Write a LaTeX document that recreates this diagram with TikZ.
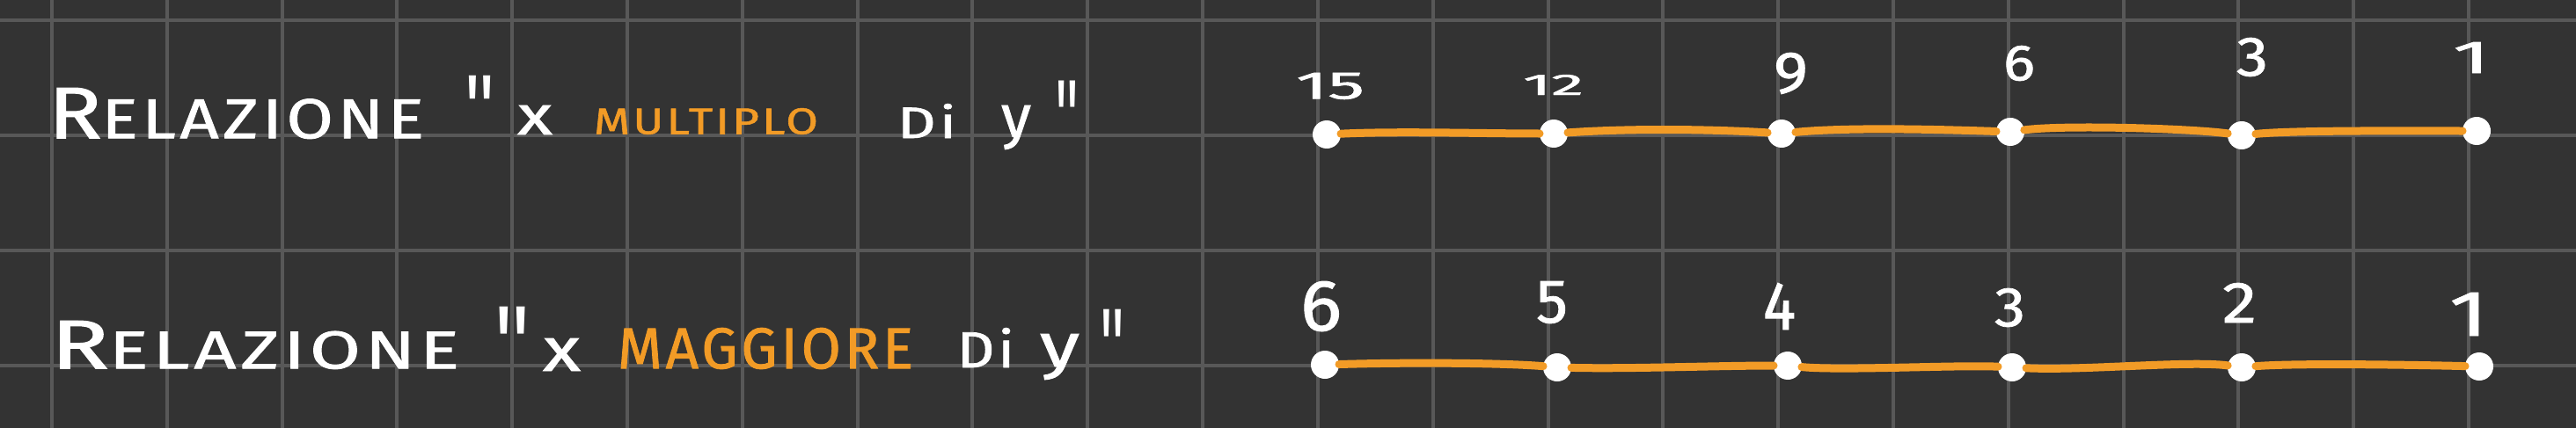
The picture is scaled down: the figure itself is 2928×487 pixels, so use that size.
\documentclass[tikz,border=0pt]{standalone}
\usepackage{fontspec}
\usepackage{graphicx}
\newfontfamily\handfont[LetterSpace=6,FakeBold=1.2]{Fira Sans}
\newfontfamily\numfont[FakeBold=1.2]{Fira Sans}
\newfontfamily\quotefont{Liberation Sans}
\definecolor{bgcol}{HTML}{333333}
\definecolor{gridcol}{HTML}{585858}
\definecolor{orangecol}{HTML}{F29B26}
\newcommand{\fitbox}[3]{\resizebox*{#1}{#2}{#3}}
\newcommand{\bigR}{{\fontsize{13}{13}\selectfont R}}
\newcommand{\qmark}{\raisebox{-0.47em}[0.245em][0pt]{"}}
\begin{document}
\begin{tikzpicture}[x=1pt,y=-1pt,
  txt/.style={anchor=north west,inner sep=0pt,outer sep=0pt,text=white,font=\handfont},
  qtxt/.style={anchor=north,inner sep=0pt,outer sep=0pt,text=white,font=\quotefont},
  otxt/.style={txt,text=orangecol},
  num/.style={anchor=north west,inner sep=0pt,outer sep=0pt,text=white,font=\numfont},
  dot/.style={circle,fill=white,draw=none,minimum size=32pt,inner sep=0pt,outer sep=0pt},
  rel/.style={draw=orangecol,line width=9pt,line cap=round},
  gridline/.style={draw=gridcol,line width=4pt}]
\useasboundingbox (0,0) rectangle (2928,487);
\fill[bgcol] (0,0) rectangle (2928,487);
% grid
\foreach \k in {0,...,21}{
  \draw[gridline] ({59+130.81*\k},0) -- ({59+130.81*\k},487);
}
\foreach \yy in {23,154,285,416}{
  \draw[gridline] (0,\yy) -- (2928,\yy);
}
% ---------- row 1 ----------
\node[txt] (rel1) at (55,100) {\fitbox{427pt}{58pt}{\bigR ELAZIONE}};
\node[qtxt] (qa1) at (546,83) {\fitbox{32pt}{30pt}{\qmark}};
\node[txt] (xa1) at (588,120) {\fitbox{40pt}{33pt}{x}};
\node[otxt] (w1) at (675,123) {\fitbox{255pt}{30pt}{MULTIPLO}};
\node[txt] (di1) at (1020,118) {\fitbox{67pt}{39pt}{Di}};
\node[txt] (ya1) at (1138,120) {\fitbox{34pt}{50pt}{y}};
\node[qtxt] (qb1) at (1213,88) {\fitbox{25pt}{34pt}{\qmark}};
% dots row 1
\node[dot] (a1) at (1508,153) {};
\node[dot] (a2) at (1766,152) {};
\node[dot] (a3) at (2025,152) {};
\node[dot] (a4) at (2285,150) {};
\node[dot] (a5) at (2548,154) {};
\node[dot] (a6) at (2815,149) {};
\draw[rel] (a1) .. controls +(80,-4) and +(-80,0) .. (a2);
\draw[rel] (a2) .. controls +(100,-7) and +(-60,-4) .. (a3);
\draw[rel] (a3) .. controls +(80,-8) and +(-60,-2) .. (a4);
\draw[rel] (a4) .. controls +(60,-8) and +(-60,-8) .. (a5);
\draw[rel] (a5) .. controls +(60,-6) and +(-80,0) .. (a6);
% numbers row 1
\node[num] (n15) at (1473,83) {\fitbox{78pt}{30pt}{15}};
\node[num] (n12) at (1731,85) {\fitbox{69pt}{23pt}{12}};
\node[num] (n9) at (2016,60) {\fitbox{39pt}{47pt}{9}};
\node[num] (n6) at (2277,52) {\fitbox{36pt}{40pt}{6}};
\node[num] (n3) at (2542,43) {\fitbox{36pt}{44pt}{3}};
\node[num] (n1) at (2788,48) {\fitbox{42pt}{35pt}{1}};
% ---------- row 2 ----------
\node[txt] (rel2) at (58,365) {\fitbox{464pt}{55pt}{\bigR ELAZIONE}};
\node[qtxt] (qa2) at (583,345) {\fitbox{38pt}{35pt}{\qmark}};
\node[txt] (xa2) at (617,385) {\fitbox{43pt}{37pt}{x}};
\node[otxt] (w2) at (702,373) {\fitbox{336pt}{47pt}{MAGGIORE}};
\node[txt] (di2) at (1088,373) {\fitbox{65pt}{45pt}{Di}};
\node[txt] (ya2) at (1182,380) {\fitbox{45pt}{52pt}{y}};
\node[qtxt] (qb2) at (1264,348) {\fitbox{26pt}{35pt}{\qmark}};
% dots row 2
\node[dot] (b1) at (1506,415) {};
\node[dot] (b2) at (1770,418) {};
\node[dot] (b3) at (2032,416) {};
\node[dot] (b4) at (2287,418) {};
\node[dot] (b5) at (2548,418) {};
\node[dot] (b6) at (2818,417) {};
\draw[rel] (b1) .. controls +(100,-3) and +(-60,-5) .. (b2);
\draw[rel] (b2) .. controls +(80,2) and +(-80,0) .. (b3);
\draw[rel] (b3) .. controls +(60,6) and +(-60,-3) .. (b4);
\draw[rel] (b4) .. controls +(80,4) and +(-60,-8) .. (b5);
\draw[rel] (b5) .. controls +(60,-5) and +(-80,-2) .. (b6);
% numbers row 2
\node[num] (m6) at (1478,320) {\fitbox{47pt}{57pt}{6}};
\node[num] (m5) at (1746,320) {\fitbox{36pt}{48pt}{5}};
\node[num] (m4) at (2004,322) {\fitbox{37pt}{53pt}{4}};
\node[num] (m3) at (2267,328) {\fitbox{35pt}{44pt}{3}};
\node[num] (m2) at (2526,322) {\fitbox{39pt}{45pt}{2}};
\node[num] (m1) at (2784,333) {\fitbox{44pt}{49pt}{1}};
\end{tikzpicture}
\end{document}
